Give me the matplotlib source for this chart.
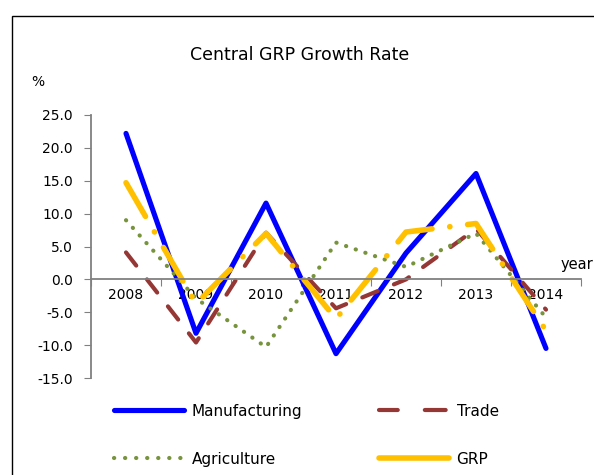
import matplotlib.pyplot as plt
from matplotlib.lines import Line2D
from matplotlib.patches import Rectangle

years = ["2008", "2009", "2010", "2011", "2012", "2013", "2014"]
manufacturing = [22.2, -8.2, 11.6, -11.3, 4.0, 16.1, -10.5]
trade = [4.1, -9.6, 7.1, -4.4, 0.0, 7.7, -4.6]
agriculture = [9.0, -2.9, -10.3, 5.6, 1.9, 7.0, -5.8]
grp = [14.7, -3.7, 7.0, -6.0, 7.2, 8.5, -7.8]
y_ticks = [-15, -10, -5, 0, 5, 10, 15, 20, 25]

fig = plt.figure(figsize=(5.94, 4.75), dpi=100)
fig.patches.append(Rectangle((12 / 594, -0.1), 1.0, 1 - 15.5 / 475 + 0.1,
                             transform=fig.transFigure, fill=False,
                             edgecolor="black", linewidth=1.0))

ax = fig.add_axes([91 / 594, 1 - 378 / 475, 490 / 594, 263 / 475])
x = [i + 0.5 for i in range(len(years))]

ax.plot(x, manufacturing, color="#0000ff", linewidth=3.7,
        solid_capstyle="round")
ax.plot(x, trade, color="#953735", linewidth=3.0,
        linestyle=(0, (4, 4.2)), dash_capstyle="round")
ax.plot(x, agriculture, color="#77933c", linewidth=3.0,
        linestyle=(0, (0.05, 2.4)), dash_capstyle="round")
ax.plot(x, grp, color="#ffc000", linewidth=4.0,
        linestyle=(0, (7, 3.2, 0.05, 3.2)), dash_capstyle="round")

ax.set_xlim(0, len(years))
ax.set_ylim(-15, 25)
ax.set_yticks(y_ticks)
ax.set_yticklabels([f"{v:.1f}" for v in y_ticks])

ax.set_xticks(range(len(years) + 1))
ax.set_xticklabels([])
ax.set_xticks(x, minor=True)
ax.set_xticklabels(years, minor=True)
ax.tick_params(axis="x", which="minor", length=0, pad=6, labelsize=10)
ax.tick_params(axis="x", which="major", length=5, direction="out",
               color="#808080")
ax.tick_params(axis="y", length=5, color="#808080", labelsize=10, pad=8)

for side in ["top", "right"]:
    ax.spines[side].set_visible(False)
ax.spines["bottom"].set_position(("data", 0))
ax.spines["bottom"].set_color("#808080")
ax.spines["bottom"].set_linewidth(1.3)
ax.spines["left"].set_color("#808080")
ax.spines["left"].set_linewidth(1.3)

fig.text(300 / 594, 1 - 55 / 475, "Central GRP Growth Rate",
         ha="center", va="center", fontsize=12.5)
fig.text(38 / 594, 1 - 82 / 475, "%", ha="center", va="center", fontsize=10)
fig.text(561 / 594, 1 - 264 / 475, "year", ha="left", va="center", fontsize=10.5)

handles = [
    Line2D([], [], color="#0000ff", linewidth=3.7, solid_capstyle="round"),
    Line2D([], [], color="#77933c", linewidth=3.0,
           linestyle=(0, (0.05, 2.6)), dash_capstyle="round"),
    Line2D([], [], color="#953735", linewidth=3.0,
           linestyle=(0.5, (5, 6.5)), dash_capstyle="round"),
    Line2D([], [], color="#ffc000", linewidth=4.0, solid_capstyle="round"),
]
labels = ["Manufacturing", "Agriculture", "Trade", "GRP"]
fig.legend(handles, labels, ncol=2, frameon=False, fontsize=11,
           loc="upper left", bbox_to_anchor=(100 / 594, 1 - 390 / 475),
           handlelength=4.6, handletextpad=0.5, columnspacing=5.0,
           labelspacing=2.15)

fig.savefig("out.png", dpi=100)
